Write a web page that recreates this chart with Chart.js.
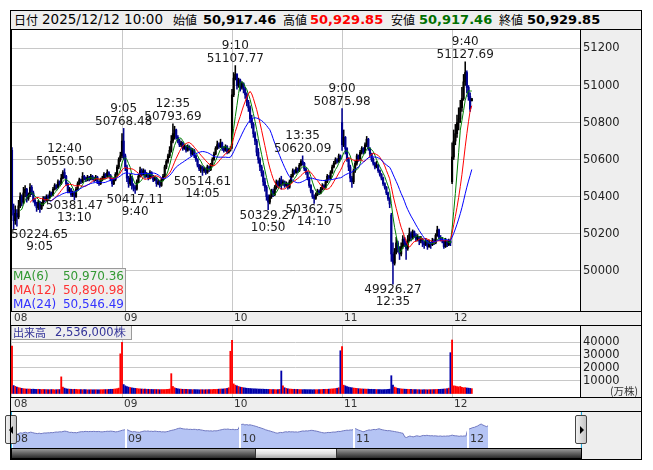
<!DOCTYPE html>
<html><head><meta charset="utf-8">
<script src="https://cdn.jsdelivr.net/npm/chart.js@4.4.1/dist/chart.umd.min.js"></script>
<style>
body{margin:0;background:#fff;}
#wrap{position:relative;width:653px;height:470px;overflow:hidden;font-family:"DejaVu Sans",sans-serif;}
.a{position:absolute;white-space:nowrap;}
.g{position:absolute;background:#eeeeee;}
.hl{position:absolute;height:1px;background:#000;left:10px;width:631px;}
.vl{position:absolute;width:1px;background:#000;}
canvas{position:absolute;}
.hj{font-family:"Noto Sans CJK JP",sans-serif;font-size:12px;line-height:19px;top:10px;color:#000;}
.hv{font-size:13px;line-height:19px;top:10px;font-weight:bold;}
.mal{font-size:12px;line-height:14px;}
</style></head><body>
<div id="wrap">
  <div class="g" style="left:10px;top:10px;width:631px;height:19px"></div>
  <div class="g" style="left:580px;top:30px;width:61px;height:429px"></div>
  <div class="g" style="left:10px;top:311px;width:631px;height:14px"></div>
  <div class="g" style="left:10px;top:397px;width:631px;height:14px"></div>

  <canvas id="cMain" width="629" height="295" style="left:11px;top:30px"></canvas>
  <canvas id="cVol" width="629" height="85" style="left:11px;top:326px"></canvas>
  <canvas id="cNav" width="570" height="36" style="left:11px;top:412px"></canvas>

  <span class="a hj" style="left:14px">日付</span>
  <span class="a" id="hDate" style="left:42px;top:10px;font-size:13.5px;line-height:19px"></span>
  <span class="a hj" style="left:173px">始値</span>
  <span class="a hv" id="hO" style="left:203px;color:#000"></span>
  <span class="a hj" style="left:283px">高値</span>
  <span class="a hv" id="hH" style="left:310px;color:#ff0000"></span>
  <span class="a hj" style="left:391px">安値</span>
  <span class="a hv" id="hL" style="left:419px;color:#007000"></span>
  <span class="a hj" style="left:499px">終値</span>
  <span class="a hv" id="hC" style="left:527px;color:#000"></span>

  <div class="a" style="left:11px;top:268px;width:113px;height:42px;background:#eeeeee;border:1px solid #9a9a9a;"></div>
  <span class="a mal" style="left:13px;top:269px;color:#339933">MA(6)</span>
  <span class="a mal" style="left:13px;top:283px;color:#ff3333">MA(12)</span>
  <span class="a mal" style="left:13px;top:297px;color:#3333ff">MA(24)</span>
  <span class="a mal" id="ma6v" style="right:529px;top:269px;color:#339933"></span>
  <span class="a mal" id="ma12v" style="right:529px;top:283px;color:#ff3333"></span>
  <span class="a mal" id="ma24v" style="right:529px;top:297px;color:#3333ff"></span>

  <div class="a" style="left:11px;top:325px;width:119px;height:13px;background:#eeeeee;border:1px solid #9a9a9a;"></div>
  <span class="a" style="left:13px;top:325px;font-family:'Noto Sans CJK JP',sans-serif;font-size:11px;line-height:15px;color:#333399">出来高</span>
  <span class="a" id="volLbl" style="left:55px;top:325px;font-size:11.5px;line-height:15px;color:#333399"></span>
  <span class="a" style="left:610px;top:384px;font-family:'Noto Sans CJK JP',sans-serif;font-size:10.5px;line-height:13px;color:#333">(万株)</span>

  <div class="hl" style="top:29px"></div>
  <div class="hl" style="top:311px"></div>
  <div class="hl" style="top:325px"></div>
  <div class="hl" style="top:397px"></div>
  <div class="hl" style="top:411px"></div>
  <div class="vl" style="left:580px;top:29px;height:282px"></div>
  <div class="vl" style="left:11px;top:29px;height:282px"></div>
  <div class="vl" style="left:580px;top:325px;height:72px"></div>
  <div class="a" style="left:11px;top:412px;width:1px;height:36px;background:#22aadd"></div>
  <div class="a" style="left:581px;top:412px;width:1px;height:36px;background:#22aadd"></div>

  <div class="a" style="left:11px;top:448px;width:571px;height:11px;box-sizing:border-box;border:1px solid #000;background:linear-gradient(to bottom,#9a9a9a 0%,#666 45%,#2a2a2a 100%)"></div>
  <div class="a" style="left:255px;top:449px;width:82px;height:9px;box-sizing:border-box;border-left:1px solid #333;border-right:1px solid #333;background:linear-gradient(to bottom,#fafafa 0%,#e0e0e0 50%,#aaaaaa 100%)"></div>

  <div class="a" style="left:5px;top:415px;width:12px;height:29px;box-sizing:border-box;border:1px solid #444;border-radius:2px;background:linear-gradient(to right,#f0f0f0,#c4c4c4)">
    <div class="a" style="left:3px;top:10px;width:0;height:0;border-top:4px solid transparent;border-bottom:4px solid transparent;border-right:4px solid #000"></div>
  </div>
  <div class="a" style="left:575px;top:415px;width:12px;height:29px;box-sizing:border-box;border:1px solid #444;border-radius:2px;background:linear-gradient(to right,#f0f0f0,#c4c4c4)">
    <div class="a" style="left:4px;top:10px;width:0;height:0;border-top:4px solid transparent;border-bottom:4px solid transparent;border-left:4px solid #000"></div>
  </div>

  <div class="a" style="left:10px;top:10px;width:632px;height:450px;box-sizing:border-box;border:1px solid #000"></div>
</div>
<script>
// ---- categories / ticks ----
const days = ['08','09','10','11','12'];
const dayStarts = [0, 67, 134, 201, 268];
const priceTicks = [50000, 50200, 50400, 50600, 50800, 51000, 51200];
const priceTickLabels = ['50000','50200','50400','50600','50800','51000','51200'];
const volTicks = [10000, 20000, 30000, 40000];
const volTickLabels = ['10000','20000','30000','40000'];
const lastDate = '2025/12/12';
const lastTime = '10:00';
const volumeText = '2,536,000株';

// ---- 5-minute OHLC (Dec 8 .. Dec 12) ----
const open = [
50650,50330,50270,50310,50290,50350,50400,50370,50420,50440,50390,50410,50450,50420,50380,50360,50340,50370,50335,50360,50390,50380,50400,50395,50420,50410,50440,50460,50450,50480,50470,50500,50530,50510,50470,50430,50440,50410,50420,50400,50440,50470,50490,50480,50510,50500,50490,50505,50495,50510,50500,50490,50505,50480,50470,50490,50500,50520,50510,50530,50515,50495,50470,50490,50520,50560,50600,
50620,50700,50620,50560,50500,50470,50500,50460,50450,50440,50480,50510,50540,50520,50540,50510,50520,50500,50530,50510,50490,50500,50470,50480,50460,50490,50510,50560,50590,50620,50650,50700,50740,50760,50720,50700,50680,50690,50660,50670,50650,50670,50660,50630,50650,50620,50600,50570,50550,50560,50540,50550,50530,50560,50545,50570,50600,50630,50660,50680,50670,50690,50660,50650,50670,50640,50650,
50680,50950,51040,51060,51000,51030,50990,51010,50980,50950,50910,50880,50820,50790,50740,50700,50640,50600,50560,50530,50480,50450,50400,50370,50400,50430,50410,50450,50480,50460,50490,50470,50480,50460,50470,50450,50480,50510,50540,50530,50550,50540,50570,50590,50580,50550,50530,50500,50460,50430,50400,50390,50410,50430,50420,50440,50460,50450,50480,50510,50500,50530,50560,50580,50600,50590,50620,
50800,50680,50720,50660,50600,50560,50500,50480,50540,50580,50620,50600,50640,50660,50640,50680,50710,50660,50630,50600,50580,50560,50570,50540,50520,50500,50470,50450,50420,50390,50300,50090,50040,50100,50150,50120,50090,50130,50170,50150,50120,50170,50200,50180,50210,50190,50170,50180,50160,50170,50150,50140,50160,50130,50150,50140,50160,50150,50190,50220,50180,50170,50160,50130,50160,50140,50160,
50480,50614,50700,50740,50800,50820,50880,50929.6,51020,51070,50990,50940,50917.46
];
const high = [
50665,50360,50350,50330,50380,50420,50410,50450,50460,50445,50420,50470,50460,50430,50390,50370,50380,50375,50370,50400,50400,50410,50410,50430,50425,50450,50470,50465,50490,50485,50520,50540,50550.5,50515,50475,50450,50445,50430,50425,50450,50480,50500,50495,50530,50515,50505,50515,50510,50520,50515,50505,50515,50510,50485,50500,50510,50530,50525,50545,50535,50520,50500,50500,50530,50570,50610,50640,
50740,50768.48,50630,50570,50510,50520,50510,50470,50460,50490,50520,50560,50550,50550,50545,50530,50525,50540,50535,50515,50510,50505,50490,50485,50500,50520,50570,50600,50630,50670,50730,50793.69,50780,50765,50730,50710,50700,50695,50680,50675,50680,50675,50665,50660,50655,50625,50605,50575,50570,50565,50560,50555,50570,50565,50580,50610,50640,50670,50700,50690,50710,50695,50670,50680,50675,50660,50670,
50980,51070,51107.77,51065,51040,51035,51020,51015,50990,50960,50920,50890,50840,50800,50750,50710,50660,50610,50570,50540,50500,50460,50410,50410,50440,50440,50460,50490,50485,50500,50510,50490,50485,50480,50475,50490,50520,50550,50545,50560,50555,50580,50600,50620.09,50585,50555,50535,50505,50465,50435,50410,50420,50440,50435,50450,50470,50465,50490,50520,50515,50540,50570,50590,50610,50605,50630,50625,
50875.98,50760,50725,50665,50610,50570,50510,50550,50590,50630,50625,50650,50670,50665,50690,50725,50715,50665,50635,50610,50585,50590,50575,50545,50525,50505,50475,50455,50425,50395,50310,50150,50120,50180,50160,50130,50150,50190,50180,50160,50190,50230,50210,50220,50215,50200,50195,50185,50185,50175,50160,50175,50165,50165,50155,50175,50170,50200,50240,50225,50190,50180,50165,50175,50165,50170,50165,
50690,50760,50790,50840,50880,50920,50990,51060,51127.69,51080,51000,50960,50929.85
];
const low = [
50300,50224.65,50250,50240,50280,50340,50350,50360,50400,50370,50380,50400,50410,50370,50350,50320,50330,50315,50330,50350,50370,50375,50385,50390,50400,50405,50435,50440,50445,50460,50465,50495,50500,50460,50420,50420,50400,50400,50381.47,50395,50435,50465,50470,50475,50490,50480,50485,50485,50490,50490,50480,50485,50470,50460,50465,50485,50495,50500,50505,50505,50485,50455,50465,50485,50515,50550,50590,
50610,50600,50540,50480,50450,50460,50440,50430,50417.11,50435,50475,50505,50510,50515,50500,50505,50490,50495,50500,50480,50485,50455,50465,50450,50455,50485,50505,50550,50580,50610,50640,50690,50710,50710,50690,50670,50670,50650,50655,50640,50645,50650,50620,50625,50610,50590,50560,50540,50530,50514.61,50530,50520,50525,50535,50540,50565,50595,50625,50655,50660,50665,50650,50640,50645,50630,50635,50645,
50660,50940,51030,50980,50990,50970,50980,50960,50930,50890,50860,50800,50770,50720,50680,50620,50580,50540,50510,50460,50430,50380,50329.27,50360,50390,50400,50405,50440,50450,50455,50440,50460,50450,50455,50440,50445,50475,50505,50520,50525,50530,50535,50565,50570,50540,50520,50490,50450,50420,50390,50362.75,50385,50405,50410,50415,50435,50440,50445,50475,50490,50495,50525,50555,50575,50580,50585,50600,
50650,50670,50630,50590,50540,50480,50450,50470,50530,50570,50590,50595,50630,50630,50635,50670,50650,50620,50590,50570,50550,50555,50530,50510,50490,50460,50440,50410,50380,50340,50050,49926.27,50030,50090,50100,50060,50080,50120,50130,50060,50110,50160,50160,50170,50180,50160,50160,50140,50150,50130,50120,50135,50115,50125,50120,50135,50140,50145,50185,50170,50160,50150,50120,50125,50130,50135,50135,
50470,50600,50680,50720,50760,50800,50860,50920,51000,50960,50920,50860,50917.46
];
const close = [
50330,50270,50310,50290,50350,50400,50370,50420,50440,50390,50410,50450,50420,50380,50360,50340,50370,50335,50360,50390,50380,50400,50395,50420,50410,50440,50460,50450,50480,50470,50500,50530,50510,50470,50430,50440,50410,50420,50400,50440,50470,50490,50480,50510,50500,50490,50505,50495,50510,50500,50490,50505,50480,50470,50490,50500,50520,50510,50530,50515,50495,50470,50490,50520,50560,50600,50620,
50700,50620,50560,50500,50470,50500,50460,50450,50440,50480,50510,50540,50520,50540,50510,50520,50500,50530,50510,50490,50500,50470,50480,50460,50490,50510,50560,50590,50620,50650,50700,50740,50760,50720,50700,50680,50690,50660,50670,50650,50670,50660,50630,50650,50620,50600,50570,50550,50560,50540,50550,50530,50560,50545,50570,50600,50630,50660,50680,50670,50690,50660,50650,50670,50640,50650,50660,
50950,51040,51060,51000,51030,50990,51010,50980,50950,50910,50880,50820,50790,50740,50700,50640,50600,50560,50530,50480,50450,50400,50370,50400,50430,50410,50450,50480,50460,50490,50470,50480,50460,50470,50450,50480,50510,50540,50530,50550,50540,50570,50590,50580,50550,50530,50500,50460,50430,50400,50390,50410,50430,50420,50440,50460,50450,50480,50510,50500,50530,50560,50580,50600,50590,50620,50610,
50680,50720,50660,50600,50560,50500,50480,50540,50580,50620,50600,50640,50660,50640,50680,50710,50660,50630,50600,50580,50560,50570,50540,50520,50500,50470,50450,50420,50390,50360,50090,50040,50100,50150,50120,50090,50130,50170,50150,50120,50170,50200,50180,50210,50190,50170,50180,50160,50170,50150,50140,50160,50130,50150,50140,50160,50150,50190,50220,50180,50170,50160,50130,50160,50140,50160,50150,
50614,50700,50740,50800,50820,50880,50929.6,51020,51070,50990,50940,50872.31,50929.85
];
// volume (万株)
const volume = [
37000,6200,5600,5000,4600,4300,4000,3800,3600,3500,3500,3400,3300,3400,3300,3200,3300,3200,3100,3200,3100,3100,3000,3000,3100,3000,2900,3000,3000,3100,13000,5000,4200,3700,3500,3400,3300,3200,3300,3200,3100,3100,3000,3000,3100,3000,2900,2900,3000,2900,2900,3000,2900,2900,3000,3000,3000,3100,3100,3200,3300,3300,3400,3600,3800,4200,31000,
40000,7000,6000,5500,5000,4700,4400,4200,4000,3900,3700,3600,3500,3400,3400,3300,3300,3200,3200,3100,3200,3100,3100,3000,3100,3000,3100,3200,3300,3500,15500,5500,4500,4000,3700,3500,3400,3300,3300,3200,3200,3100,3100,3000,3100,3000,3000,2900,3000,3000,2900,3000,3000,3000,3100,3100,3200,3200,3300,3400,3500,3500,3600,3800,4000,4500,33000,
41500,7500,6500,6000,5500,5000,4800,4500,4300,4100,4000,3900,3800,3700,3600,3600,3500,3500,3400,3400,3300,3300,3200,3200,3100,3100,3100,3000,3000,3200,17600,6000,4500,4000,3700,3500,3400,3300,3300,3200,3200,3100,3100,3000,3100,3000,3000,3000,3000,2900,3000,3000,3000,3100,3100,3200,3200,3300,3300,3400,3500,3600,3700,3900,4100,4500,33400,
36600,6500,6000,5500,5000,4700,4500,4300,4100,4000,3800,3700,3600,3500,3500,3400,3400,3300,3300,3200,3200,3100,3100,3100,3000,3000,3100,3100,3200,3400,13900,6500,5000,4400,4000,3800,3600,3500,3400,3300,3300,3200,3200,3100,3100,3000,3000,3000,2900,2900,3000,3000,2900,3000,3000,3100,3100,3200,3200,3300,3300,3400,3500,3600,3800,4200,31900,
41800,6000,5800,5500,5200,5500,4800,4500,4600,4300,4200,4000,3800
];
// annotated highs / lows
const markBars  = [1, 32, 38, 68, 75, 98, 116, 136, 156, 177, 184, 201, 232, 276];
const markKinds = ['L','H','L','H','L','H','L','H','L','H','L','H','L','H'];
const markTimes = ['9:05','12:40','13:10','9:05','9:40','12:35','14:05','9:10','10:50','13:35','14:10','9:00','12:35','9:40'];

// ---- derived ----
const idx = close.map((_, i) => i);
function sma(n){ return close.map((_, i) => { if (i < n-1) return null; let s = 0; for (let k = i-n+1; k <= i; k++) s += close[k]; return s/n; }); }
const ma6 = sma(6), ma12 = sma(12), ma24 = sma(24);
const fmt = v => v.toLocaleString('en-US', {minimumFractionDigits:2, maximumFractionDigits:2});
const last = close.length - 1;
document.getElementById('hDate').textContent = lastDate + ' ' + lastTime;
document.getElementById('hO').textContent = fmt(open[last]);
document.getElementById('hH').textContent = fmt(high[last]);
document.getElementById('hL').textContent = fmt(low[last]);
document.getElementById('hC').textContent = fmt(close[last]);
document.getElementById('ma6v').textContent = fmt(ma6[last]);
document.getElementById('ma12v').textContent = fmt(ma12[last]);
document.getElementById('ma24v').textContent = fmt(ma24[last]);
document.getElementById('volLbl').textContent = volumeText;

const UP = '#000000', DOWN = '#000090';
const candleColors = idx.map(i => close[i] >= open[i] ? UP : DOWN);
const volColors = idx.map(i => (i === 0 || close[i] >= close[i-1]) ? '#ff0000' : '#0000aa');

const FONT = '"DejaVu Sans"';
const X_MIN = -0.6, X_MAX = 345.9;
const xScale = () => ({
  type:'linear', position:'bottom', min:X_MIN, max:X_MAX, offset:false,
  grid:{color:'#c8c8c8', drawTicks:false, offset:false},
  border:{display:false},
  ticks:{font:{family:FONT, size:10.5}, color:'#333', align:'start', labelOffset:2, padding:1, maxRotation:0, autoSkip:false,
         callback:(v, i) => days[i]},
  afterBuildTicks: s => { s.ticks = dayStarts.map(v => ({value:v})); },
  afterFit: s => { s.height = 14; s.paddingLeft = 0; s.paddingRight = 0; }
});
const yScale = (min, max, ticks, labels) => ({
  type:'linear', position:'right', min, max,
  grid:{color:'#c8c8c8', drawTicks:false},
  border:{display:false},
  ticks:{font:{family:FONT, size:11.5}, color:'#222', padding:3, autoSkip:false, callback:(v, i) => labels[i]},
  afterBuildTicks: s => { s.ticks = ticks.map(v => ({value:v})); },
  afterFit: s => { s.width = 60; s.paddingTop = 0; s.paddingBottom = 0; }
});
const baseOpts = {responsive:false, animation:false, events:[], layout:{padding:0},
  plugins:{legend:{display:false}, tooltip:{enabled:false}}};

const markPlugin = {
  id:'marks',
  afterDatasetsDraw(chart){
    const {ctx, chartArea:a, scales:{x, y}} = chart;
    ctx.save();
    ctx.font = '12px ' + FONT;
    ctx.fillStyle = '#1a1a1a';
    ctx.textAlign = 'center'; ctx.textBaseline = 'middle';
    markBars.forEach((b, k) => {
      const isHigh = markKinds[k] === 'H';
      const v = isHigh ? high[b] : low[b];
      const vs = v.toFixed(2);
      const w = ctx.measureText(vs).width;
      let px = x.getPixelForValue(b);
      px = Math.max(a.left + w/2, Math.min(a.right - w/2, px));
      const py = y.getPixelForValue(v);
      if (isHigh) { ctx.fillText(markTimes[k], px, py - 20); ctx.fillText(vs, px, py - 7); }
      else { ctx.fillText(vs, px, py + 6); ctx.fillText(markTimes[k], px, py + 18); }
    });
    ctx.restore();
  }
};

const line = (data, color) => ({type:'line', data: idx.map(i => ({x:i, y:data[i]})), borderColor:color, borderWidth:1,
  pointRadius:0, tension:0, fill:false, spanGaps:false, order:0});

new Chart(document.getElementById('cMain'), {
  type:'bar',
  data:{datasets:[
    line(ma24, '#0000ff'),
    line(ma12, '#ff0000'),
    line(ma6, '#008000'),
    {type:'bar', data: idx.map(i => ({x:i, y:[open[i], close[i]]})), backgroundColor:candleColors, barThickness:1.5, minBarLength:1, grouped:false, order:4},
    {type:'bar', data: idx.map(i => ({x:i, y:[low[i], high[i]]})), backgroundColor:candleColors, barThickness:0.9, grouped:false, order:5}
  ]},
  options:Object.assign({}, baseOpts, {scales:{x:xScale(), y:yScale(49782, 51300, priceTicks, priceTickLabels)}}),
  plugins:[markPlugin]
});

new Chart(document.getElementById('cVol'), {
  type:'bar',
  data:{datasets:[{data: idx.map(i => ({x:i, y:volume[i]})), backgroundColor:volColors, barThickness:1.2, grouped:false}]},
  options:Object.assign({}, baseOpts, {scales:{x:xScale(), y:yScale(-2734, 52734, volTicks, volTickLabels)}})
});

const navPlugin = {
  id:'navsep',
  afterDatasetsDraw(chart){
    const {ctx, chartArea:a, scales:{x}} = chart;
    ctx.save();
    ctx.strokeStyle = '#ffffff'; ctx.lineWidth = 2;
    ctx.font = '11px ' + FONT; ctx.fillStyle = '#333'; ctx.textBaseline = 'middle';
    dayStarts.forEach((d, k) => {
      const px = Math.round(x.getPixelForValue(d));
      ctx.beginPath(); ctx.moveTo(px, a.top); ctx.lineTo(px, a.bottom); ctx.stroke();
      ctx.fillText(days[k], px + 2, 27);
    });
    ctx.restore();
  }
};
new Chart(document.getElementById('cNav'), {
  type:'line',
  data:{datasets:[{data: idx.map(i => ({x:i, y:close[i]})), borderColor:'#7078c0', borderWidth:1, backgroundColor:'#b5c4f4',
    fill:'start', pointRadius:0, tension:0}]},
  options:Object.assign({}, baseOpts, {scales:{
    x:{type:'linear', display:false, min:-0.59, max:334.7},
    y:{type:'linear', display:false, min:49237, max:51993}
  }}),
  plugins:[navPlugin]
});
</script>
</body></html>
